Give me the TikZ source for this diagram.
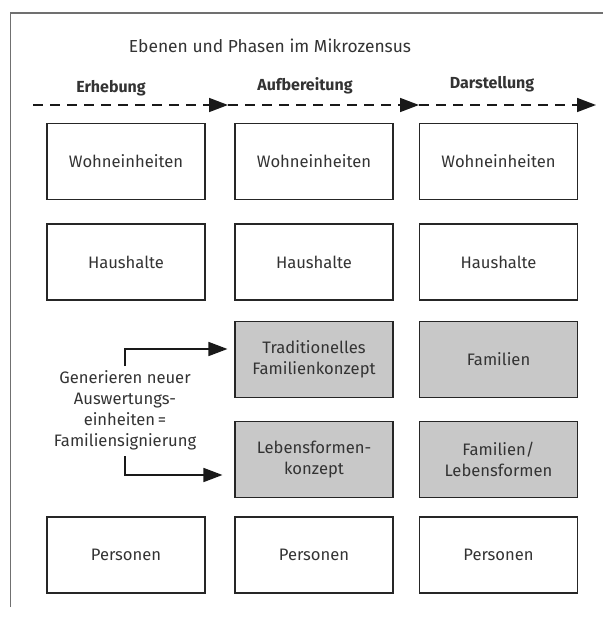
\documentclass[tikz,border=0pt]{standalone}
\usepackage{fontspec}
\setmainfont{Fira Sans}
\usetikzlibrary{arrows.meta}
\definecolor{txt}{HTML}{333333}
\definecolor{boxgray}{HTML}{C8C8C8}
\definecolor{framegray}{HTML}{707070}
\tikzset{
  lvlbox/.style={draw=black!85, line width=1.1pt, minimum width=158pt, minimum height=76pt, inner sep=0pt, text=txt, font=\fontsize{16.6}{21}\selectfont, align=center},
  graybox/.style={lvlbox, fill=boxgray},
  phase/.style={text=txt, font=\bfseries\fontsize{16}{19}\selectfont},
  dasharrow/.style={line width=1.6pt, black!90, dash pattern=on 10pt off 7pt, -{Triangle[length=19pt,width=14pt]}},
  brackarrow/.style={line width=1.6pt, black!90, -{Triangle[length=19pt,width=14pt]}},
}
\begin{document}
\begin{tikzpicture}[x=1pt,y=-1pt]
\useasboundingbox (0,0) rectangle (603,617);
\fill[white] (0,0) rectangle (603,617);
% frame
\draw[framegray, line width=1.5pt] (10.5,607) -- (10.5,13) -- (603,13);
% title
\node[text=txt, font=\fontsize{17.4}{21}\selectfont] (title) at (270,46) {Ebenen und Phasen im Mikrozensus};
\node[phase] (p1) at (111,88) {Erhebung};
\node[phase] (p2) at (305,86) {Aufbereitung};
\node[phase] (p3) at (492,84) {Darstellung};
% dashed arrows
\coordinate (a0) at (33,105);
\coordinate (a1) at (228,105);
\coordinate (a2) at (419,105);
\coordinate (a3) at (596,105);
\draw[dasharrow] (a0) -- (a1);
\draw[dasharrow] (a1) -- (a2);
\draw[dasharrow] (a2) -- (a3);
% column 1
\node[lvlbox] (w1) at (126,161.5) {Wohneinheiten};
\node[lvlbox] (h1) at (126,262) {Haushalte};
\node[lvlbox] (pe1) at (126,555) {Personen};
% column 2
\node[lvlbox] (w2) at (314,161.5) {Wohneinheiten};
\node[lvlbox] (h2) at (314,262) {Haushalte};
\node[graybox] (t2) at (314,359.5) {Traditionelles\\Familienkonzept};
\node[graybox] (l2) at (314,459.5) {Lebensformen-\\konzept};
\node[lvlbox] (pe2) at (314,555) {Personen};
% column 3
\node[lvlbox] (w3) at (498.5,161.5) {Wohneinheiten};
\node[lvlbox] (h3) at (498.5,262) {Haushalte};
\node[graybox] (f3) at (498.5,359.5) {Familien};
\node[graybox] (fl3) at (498.5,459.5) {Familien/\\Lebensformen};
\node[lvlbox] (pe3) at (498.5,555) {Personen};
% left text
\node[text=txt, font=\fontsize{16.6}{21}\selectfont, align=center] (gen) at (125,410) {Generieren neuer\\Auswertungs-\\einheiten\,=\\Familiensignierung};
\draw[brackarrow, shorten >=7pt] (125,366) |- (t2.west |- 0,349);
\draw[brackarrow, shorten >=12pt] (125,456) |- (l2.west |- 0,475);
\end{tikzpicture}
\end{document}
